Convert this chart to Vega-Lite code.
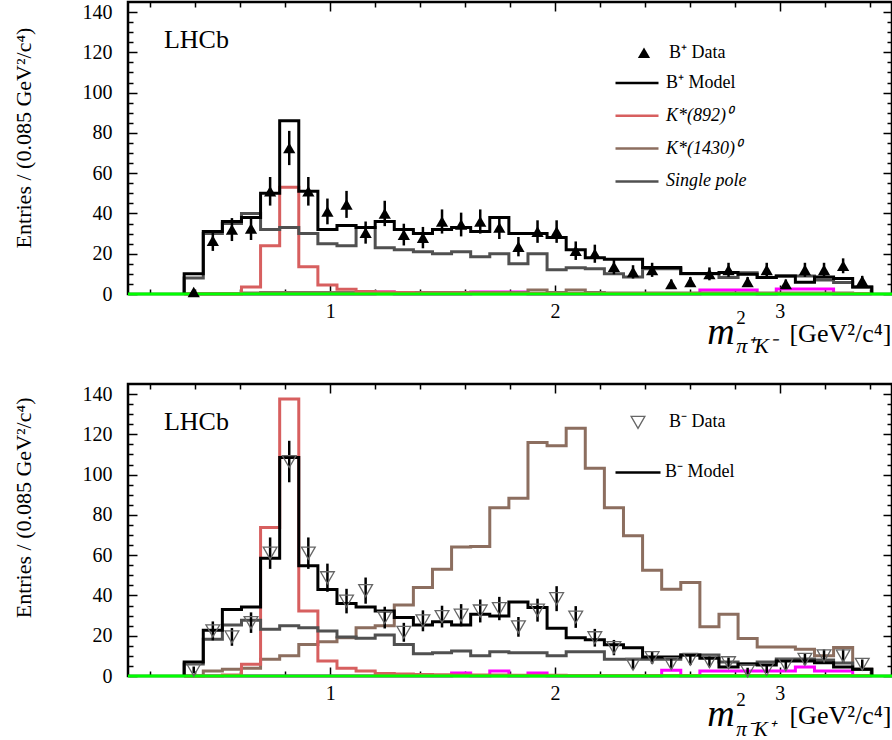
{
"$schema": "https://vega.github.io/schema/vega-lite/v6.json",
"background": "white",
"padding": {"left": 10, "top": 0, "right": 0, "bottom": 0},
"config": {
  "font": "Liberation Serif",
  "view": {"stroke": "black", "strokeWidth": 2.5},
  "axis": {"labelFont": "Liberation Serif", "titleFont": "Liberation Serif", "labelColor": "black", "titleColor": "black", "tickColor": "black", "domain": false, "grid": false, "titleFontWeight": "normal", "labelFontSize": 20, "tickWidth": 1.5, "labelOverlap": false, "labelFlush": false},
  "legend": {"labelFont": "Liberation Serif", "labelColor": "black", "labelFontSize": 18, "padding": 0, "title": null},
  "text": {"font": "Liberation Serif", "color": "black"}
},
"datasets": {
"hp": [
{"i":0,"x":0.35,"model":0,"k892":0,"k1430":0,"pole":0,"mag":0},
{"i":1,"x":0.35,"model":10,"k892":0,"k1430":0.3,"pole":8,"mag":0},
{"i":2,"x":0.435,"model":31,"k892":0,"k1430":0.3,"pole":30,"mag":0},
{"i":3,"x":0.52,"model":36,"k892":0,"k1430":0.3,"pole":35,"mag":0},
{"i":4,"x":0.605,"model":38,"k892":3.5,"k1430":0.5,"pole":40,"mag":0},
{"i":5,"x":0.69,"model":50,"k892":24,"k1430":0.7,"pole":32,"mag":0},
{"i":6,"x":0.775,"model":86,"k892":53,"k1430":0.8,"pole":33,"mag":0},
{"i":7,"x":0.86,"model":51,"k892":13.5,"k1430":0.8,"pole":30,"mag":0},
{"i":8,"x":0.945,"model":32,"k892":4.5,"k1430":0.8,"pole":25,"mag":0},
{"i":9,"x":1.03,"model":34,"k892":2.3,"k1430":0.8,"pole":24,"mag":0},
{"i":10,"x":1.115,"model":33,"k892":1.2,"k1430":0.8,"pole":33,"mag":0},
{"i":11,"x":1.2,"model":36,"k892":1,"k1430":0.8,"pole":23,"mag":1},
{"i":12,"x":1.285,"model":32,"k892":0.8,"k1430":0.8,"pole":22,"mag":0},
{"i":13,"x":1.37,"model":30,"k892":0.5,"k1430":0.8,"pole":21,"mag":0},
{"i":14,"x":1.455,"model":32,"k892":0.5,"k1430":0.8,"pole":20,"mag":0},
{"i":15,"x":1.54,"model":33,"k892":0.5,"k1430":0.8,"pole":21,"mag":0},
{"i":16,"x":1.625,"model":31,"k892":0.4,"k1430":0.8,"pole":18.5,"mag":1},
{"i":17,"x":1.71,"model":38,"k892":0.4,"k1430":0.8,"pole":20,"mag":1},
{"i":18,"x":1.795,"model":30,"k892":0.3,"k1430":0.8,"pole":15,"mag":1},
{"i":19,"x":1.88,"model":30,"k892":0.3,"k1430":2,"pole":20,"mag":0},
{"i":20,"x":1.965,"model":28,"k892":0.3,"k1430":0.8,"pole":12,"mag":0},
{"i":21,"x":2.05,"model":22,"k892":0.3,"k1430":2,"pole":13,"mag":0},
{"i":22,"x":2.135,"model":18,"k892":0.3,"k1430":0.8,"pole":12.5,"mag":0},
{"i":23,"x":2.22,"model":17.3,"k892":0.3,"k1430":0.5,"pole":10,"mag":0},
{"i":24,"x":2.305,"model":17.3,"k892":0.3,"k1430":0.5,"pole":8.5,"mag":0},
{"i":25,"x":2.39,"model":13.2,"k892":0.3,"k1430":0.5,"pole":12.5,"mag":0},
{"i":26,"x":2.475,"model":13.2,"k892":0.3,"k1430":0.5,"pole":12.5,"mag":0},
{"i":27,"x":2.56,"model":10.2,"k892":0.3,"k1430":0.5,"pole":10,"mag":0},
{"i":28,"x":2.645,"model":10.2,"k892":0.3,"k1430":0.5,"pole":10,"mag":2},
{"i":29,"x":2.73,"model":10.7,"k892":0.3,"k1430":0.5,"pole":8.2,"mag":2},
{"i":30,"x":2.815,"model":9.8,"k892":0.3,"k1430":0.5,"pole":10.5,"mag":2},
{"i":31,"x":2.9,"model":8.2,"k892":0.3,"k1430":0.5,"pole":8.2,"mag":0},
{"i":32,"x":2.985,"model":9,"k892":0.3,"k1430":0.5,"pole":9,"mag":2.5},
{"i":33,"x":3.07,"model":5.8,"k892":0.3,"k1430":0.5,"pole":9,"mag":2.5},
{"i":34,"x":3.155,"model":8.5,"k892":0.3,"k1430":0.5,"pole":7,"mag":2.5},
{"i":35,"x":3.24,"model":7.7,"k892":0.3,"k1430":0.5,"pole":5.7,"mag":0},
{"i":36,"x":3.325,"model":3.5,"k892":0.3,"k1430":0.3,"pole":3.5,"mag":0},
{"i":37,"x":3.41,"model":3.5,"k892":0.3,"k1430":0.3,"pole":3.5,"mag":0},
{"i":38,"x":3.41,"model":0,"k892":0,"k1430":0,"pole":0,"mag":0}
],
"hm": [
{"i":0,"x":0.35,"model":0,"k892":0,"k1430":0,"pole":0,"mag":0},
{"i":1,"x":0.35,"model":7,"k892":0,"k1430":0,"pole":6,"mag":0},
{"i":2,"x":0.435,"model":22.7,"k892":0,"k1430":2.5,"pole":18.2,"mag":0},
{"i":3,"x":0.52,"model":33,"k892":0.5,"k1430":3.3,"pole":25.3,"mag":0},
{"i":4,"x":0.605,"model":34.3,"k892":5.8,"k1430":3.8,"pole":27.7,"mag":0},
{"i":5,"x":0.69,"model":58.5,"k892":73.7,"k1430":8.3,"pole":23.2,"mag":0},
{"i":6,"x":0.775,"model":108.5,"k892":137.5,"k1430":10,"pole":24.9,"mag":0},
{"i":7,"x":0.86,"model":54.7,"k892":32.3,"k1430":15.7,"pole":24,"mag":0},
{"i":8,"x":0.945,"model":43,"k892":7.5,"k1430":17,"pole":22.4,"mag":0},
{"i":9,"x":1.03,"model":36,"k892":3.8,"k1430":19,"pole":19.4,"mag":0},
{"i":10,"x":1.115,"model":34.3,"k892":2.5,"k1430":24,"pole":18.7,"mag":0},
{"i":11,"x":1.2,"model":32.3,"k892":1.3,"k1430":25,"pole":20.4,"mag":0},
{"i":12,"x":1.285,"model":29,"k892":1,"k1430":35.3,"pole":15.7,"mag":0},
{"i":13,"x":1.37,"model":25.3,"k892":0.8,"k1430":44,"pole":11,"mag":0},
{"i":14,"x":1.455,"model":27,"k892":0.6,"k1430":53,"pole":11.5,"mag":0},
{"i":15,"x":1.54,"model":25.3,"k892":0.5,"k1430":64,"pole":12.4,"mag":1.5},
{"i":16,"x":1.625,"model":30.7,"k892":0.5,"k1430":64.3,"pole":10,"mag":0},
{"i":17,"x":1.71,"model":29.8,"k892":0.5,"k1430":83.5,"pole":12,"mag":2.5},
{"i":18,"x":1.795,"model":36.8,"k892":0.4,"k1430":88.3,"pole":11.6,"mag":0},
{"i":19,"x":1.88,"model":34,"k892":0.4,"k1430":116,"pole":11.6,"mag":1.5},
{"i":20,"x":1.965,"model":23.7,"k892":0.4,"k1430":114.3,"pole":10,"mag":0},
{"i":21,"x":2.05,"model":19,"k892":0.3,"k1430":123,"pole":12,"mag":0},
{"i":22,"x":2.135,"model":18,"k892":0.3,"k1430":103.2,"pole":12,"mag":0},
{"i":23,"x":2.22,"model":15.5,"k892":0.3,"k1430":83.6,"pole":8.3,"mag":0},
{"i":24,"x":2.305,"model":14,"k892":0.3,"k1430":69.6,"pole":8.3,"mag":0},
{"i":25,"x":2.39,"model":9.4,"k892":0.3,"k1430":52.5,"pole":8.3,"mag":0},
{"i":26,"x":2.475,"model":9.4,"k892":0.3,"k1430":43.1,"pole":8.3,"mag":2.8},
{"i":27,"x":2.56,"model":10.4,"k892":0.3,"k1430":46.4,"pole":10.4,"mag":0},
{"i":28,"x":2.645,"model":8.8,"k892":0.3,"k1430":24.4,"pole":10.4,"mag":2.5},
{"i":29,"x":2.73,"model":4.5,"k892":0.3,"k1430":30.7,"pole":7,"mag":2.5},
{"i":30,"x":2.815,"model":6,"k892":0.3,"k1430":18.6,"pole":6,"mag":2.5},
{"i":31,"x":2.9,"model":5.5,"k892":0.3,"k1430":14.4,"pole":7,"mag":2.5},
{"i":32,"x":2.985,"model":7.5,"k892":0.3,"k1430":14.4,"pole":8.5,"mag":2.5},
{"i":33,"x":3.07,"model":7.5,"k892":0.3,"k1430":13.3,"pole":8.5,"mag":4.5},
{"i":34,"x":3.155,"model":6.6,"k892":0.3,"k1430":10,"pole":8,"mag":2.5},
{"i":35,"x":3.24,"model":4.5,"k892":0.3,"k1430":14.1,"pole":6.5,"mag":2.5},
{"i":36,"x":3.325,"model":3.4,"k892":0.3,"k1430":3.3,"pole":3.4,"mag":0},
{"i":37,"x":3.41,"model":3.4,"k892":0.3,"k1430":3.3,"pole":3.4,"mag":0},
{"i":38,"x":3.41,"model":0,"k892":0,"k1430":0,"pole":0,"mag":0}
],
"dp": [
{"x":0.3925,"y":1,"lo":0,"hi":2},
{"x":0.4775,"y":26.5,"lo":21.4,"hi":31.6},
{"x":0.5625,"y":32,"lo":26.3,"hi":37.7},
{"x":0.6475,"y":32.5,"lo":26.8,"hi":38.2},
{"x":0.7325,"y":51,"lo":43.9,"hi":58.1},
{"x":0.8175,"y":72.5,"lo":64,"hi":81},
{"x":0.9025,"y":51,"lo":43.9,"hi":58.1},
{"x":0.9875,"y":41,"lo":34.6,"hi":47.4},
{"x":1.0725,"y":44.5,"lo":37.8,"hi":51.2},
{"x":1.1575,"y":30.5,"lo":25,"hi":36},
{"x":1.2425,"y":40,"lo":33.7,"hi":46.3},
{"x":1.3275,"y":29.5,"lo":24.1,"hi":34.9},
{"x":1.4125,"y":28,"lo":22.7,"hi":33.3},
{"x":1.4975,"y":36,"lo":30,"hi":42},
{"x":1.5825,"y":34.5,"lo":28.6,"hi":40.4},
{"x":1.6675,"y":36,"lo":30,"hi":42},
{"x":1.7525,"y":33,"lo":27.3,"hi":38.7},
{"x":1.8375,"y":23.5,"lo":18.7,"hi":28.3},
{"x":1.9225,"y":31,"lo":25.4,"hi":36.6},
{"x":2.0075,"y":31,"lo":25.4,"hi":36.6},
{"x":2.0925,"y":21.5,"lo":16.9,"hi":26.1},
{"x":2.1775,"y":20,"lo":15.5,"hi":24.5},
{"x":2.2625,"y":13.5,"lo":9.8,"hi":17.2},
{"x":2.3475,"y":11,"lo":7.7,"hi":14.3},
{"x":2.4325,"y":12,"lo":8.5,"hi":15.5},
{"x":2.5175,"y":5,"lo":2.8,"hi":7.2},
{"x":2.6025,"y":6,"lo":3.6,"hi":8.4},
{"x":2.6875,"y":10,"lo":6.8,"hi":13.2},
{"x":2.7725,"y":12,"lo":8.5,"hi":15.5},
{"x":2.8575,"y":6,"lo":3.6,"hi":8.4},
{"x":2.9425,"y":12,"lo":8.5,"hi":15.5},
{"x":3.0275,"y":5,"lo":2.8,"hi":7.2},
{"x":3.1125,"y":12,"lo":8.5,"hi":15.5},
{"x":3.1975,"y":12,"lo":8.5,"hi":15.5},
{"x":3.2825,"y":14,"lo":10.3,"hi":17.7},
{"x":3.3675,"y":6.5,"lo":4,"hi":9}
],
"dm": [
{"x":0.3925,"y":3,"lo":1.3,"hi":4.7},
{"x":0.4775,"y":22.4,"lo":17.7,"hi":27.1},
{"x":0.5625,"y":19.4,"lo":15,"hi":23.8},
{"x":0.6475,"y":26.5,"lo":21.4,"hi":31.6},
{"x":0.7325,"y":61,"lo":53.2,"hi":68.8},
{"x":0.8175,"y":106.5,"lo":96.2,"hi":116.8},
{"x":0.9025,"y":61,"lo":53.2,"hi":68.8},
{"x":0.9875,"y":48.8,"lo":41.8,"hi":55.8},
{"x":1.0725,"y":37.2,"lo":31.1,"hi":43.3},
{"x":1.1575,"y":42.4,"lo":35.9,"hi":48.9},
{"x":1.2425,"y":29,"lo":23.6,"hi":34.4},
{"x":1.3275,"y":21.7,"lo":17,"hi":26.4},
{"x":1.4125,"y":27.4,"lo":22.2,"hi":32.6},
{"x":1.4975,"y":29.5,"lo":24.1,"hi":34.9},
{"x":1.5825,"y":30.2,"lo":24.7,"hi":35.7},
{"x":1.6675,"y":32.3,"lo":26.6,"hi":38},
{"x":1.7525,"y":33.5,"lo":27.7,"hi":39.3},
{"x":1.8375,"y":24.4,"lo":19.5,"hi":29.3},
{"x":1.9225,"y":32.7,"lo":27,"hi":38.4},
{"x":2.0075,"y":38.4,"lo":32.2,"hi":44.6},
{"x":2.0925,"y":29.3,"lo":23.9,"hi":34.7},
{"x":2.1775,"y":19,"lo":14.6,"hi":23.4},
{"x":2.2625,"y":14.1,"lo":10.3,"hi":17.9},
{"x":2.3475,"y":5.8,"lo":3.4,"hi":8.2},
{"x":2.4325,"y":9.1,"lo":6.1,"hi":12.1},
{"x":2.5175,"y":6.1,"lo":3.6,"hi":8.6},
{"x":2.6025,"y":8.3,"lo":5.4,"hi":11.2},
{"x":2.6875,"y":7.1,"lo":4.4,"hi":9.8},
{"x":2.7725,"y":6.6,"lo":4,"hi":9.2},
{"x":2.8575,"y":2.5,"lo":0.9,"hi":4.1},
{"x":2.9425,"y":3.3,"lo":1.5,"hi":5.1},
{"x":3.0275,"y":5.5,"lo":3.2,"hi":7.8},
{"x":3.1125,"y":8.3,"lo":5.4,"hi":11.2},
{"x":3.1975,"y":10,"lo":6.8,"hi":13.2},
{"x":3.2825,"y":10,"lo":6.8,"hi":13.2},
{"x":3.3675,"y":5.8,"lo":3.4,"hi":8.2}
]
},
"vconcat": [
{
 "width": 764, "height": 292,
 "resolve": {"axis": {"x": "independent", "y": "independent"}},
 "layer": [
  {"data": {"name": "hp"}, "mark": {"type": "line", "color": "#ff00ff", "strokeWidth": 3, "interpolate": "step-after"},
   "encoding": {"x": {"field": "x", "type": "quantitative", "scale": {"domain": [0.1, 3.5], "nice": false, "zero": false}, "axis": null},
                "y": {"field": "mag", "type": "quantitative", "scale": {"domain": [0, 145], "nice": false}, "axis": null},
                "order": {"field": "i", "type": "quantitative"}}},
  {"data": {"name": "hp"}, "transform": [{"fold": ["k1430", "k892", "pole", "model"], "as": ["c", "v"]}],
   "mark": {"type": "line", "strokeWidth": 3, "interpolate": "step-after"},
   "encoding": {
    "x": {"field": "x", "type": "quantitative", "scale": {"domain": [0.1, 3.5], "nice": false, "zero": false},
          "axis": {"orient": "bottom", "values": [0.2,0.4,0.6,0.8,1,1.2,1.4,1.6,1.8,2,2.2,2.4,2.6,2.8,3,3.2,3.4],
                   "labelExpr": "abs(datum.value - round(datum.value)) < 0.001 ? '' + round(datum.value) : ''",
                   "tickSize": {"condition": {"test": "abs(datum.value - round(datum.value)) < 0.001", "value": -9}, "value": -5},
                   "labelPadding": 16, "title": "[GeV²/c⁴]", "titleFontSize": 26, "titleAnchor": "end", "titleAlign": "right", "titleBaseline": "alphabetic", "titleX": 763, "titleY": 47}},
    "y": {"field": "v", "type": "quantitative", "scale": {"domain": [0, 145], "nice": false},
          "axis": {"orient": "left", "values": [0,5,10,15,20,25,30,35,40,45,50,55,60,65,70,75,80,85,90,95,100,105,110,115,120,125,130,135,140],
                   "labelExpr": "datum.value % 20 === 0 ? '' + datum.value : ''",
                   "tickSize": {"condition": {"test": "datum.value % 20 === 0", "value": -9}, "value": -5},
                   "labelPadding": 25, "title": "Entries / (0.085 GeV²/c⁴)", "titleFontSize": 22, "titleAngle": -90, "titleAlign": "center", "titleBaseline": "bottom", "titleX": -93, "titleY": 135.5}},
    "color": {"field": "c", "type": "nominal",
              "scale": {"domain": ["model", "k892", "k1430", "pole"], "range": ["#000000", "#d75f5f", "#8c6e5f", "#505050"]},
              "legend": {"orient": "none", "legendX": 486, "legendY": 71, "symbolSize": 1849, "symbolStrokeWidth": 2.5, "labelOffset": 6, "clipHeight": 20, "rowPadding": 12.8,
                         "labelExpr": "datum.value === 'model' ? 'B⁺ Model' : datum.value === 'k892' ? 'K*(892)⁰' : datum.value === 'k1430' ? 'K*(1430)⁰' : 'Single pole'",
                         "encode": {"labels": {"update": {"fontStyle": {"signal": "datum.value === 'model' ? 'normal' : 'italic'"}}}}}},
    "order": {"field": "i", "type": "quantitative"}}},
  {"data": {"values": [{}]}, "mark": {"type": "rule", "color": "#00ff00", "strokeWidth": 3},
   "encoding": {"y": {"datum": 0, "type": "quantitative", "scale": {"domain": [0, 145], "nice": false}, "axis": null}}},
  {"data": {"name": "dp"}, "mark": {"type": "rule", "color": "black", "strokeWidth": 2.5},
   "encoding": {"x": {"field": "x", "type": "quantitative", "scale": {"domain": [0.1, 3.5], "nice": false, "zero": false},
                      "axis": {"orient": "top", "values": [0.2,0.4,0.6,0.8,1,1.2,1.4,1.6,1.8,2,2.2,2.4,2.6,2.8,3,3.2,3.4], "labels": false, "title": null,
                               "tickSize": {"condition": {"test": "abs(datum.value - round(datum.value)) < 0.001", "value": -9}, "value": -5}}},
                "y": {"field": "lo", "type": "quantitative", "scale": {"domain": [0, 145], "nice": false},
                      "axis": {"orient": "right", "values": [0,5,10,15,20,25,30,35,40,45,50,55,60,65,70,75,80,85,90,95,100,105,110,115,120,125,130,135,140], "labels": false, "title": null,
                               "tickSize": {"condition": {"test": "datum.value % 20 === 0", "value": -9}, "value": -5}}},
                "y2": {"field": "hi"}}},
  {"data": {"name": "dp"}, "mark": {"type": "point", "filled": true, "color": "black", "size": 150, "opacity": 1},
   "encoding": {"x": {"field": "x", "type": "quantitative", "scale": {"domain": [0.1, 3.5], "nice": false, "zero": false}, "axis": null},
                "y": {"field": "y", "type": "quantitative", "scale": {"domain": [0, 145], "nice": false}, "axis": null},
                "shape": {"datum": "B⁺ Data", "scale": {"range": ["triangle-up"]},
                          "legend": {"orient": "none", "legendX": 507, "legendY": 40.7, "symbolSize": 150, "symbolFillColor": "black", "symbolStrokeColor": "black", "labelOffset": 16, "clipHeight": 20}}}},
  {"data": {"values": [{}]}, "mark": {"type": "text", "text": "LHCb", "fontSize": 26, "align": "left", "baseline": "alphabetic"},
   "encoding": {"x": {"datum": 0.26, "type": "quantitative", "scale": {"domain": [0.1, 3.5], "nice": false, "zero": false}, "axis": null},
                "y": {"datum": 122.3, "type": "quantitative", "scale": {"domain": [0, 145], "nice": false}, "axis": null}}},
  {"data": {"values": [{}]}, "mark": {"type": "text", "text": "m", "fontSize": 38, "fontStyle": "italic", "align": "left", "baseline": "alphabetic"},
   "encoding": {"x": {"datum": 2.678, "type": "quantitative", "scale": {"domain": [0.1, 3.5], "nice": false, "zero": false}, "axis": null},
                "y": {"datum": -24.8, "type": "quantitative", "scale": {"domain": [0, 145], "nice": false}, "axis": null}}},
  {"data": {"values": [{}]}, "mark": {"type": "text", "text": "2", "fontSize": 19, "align": "left", "baseline": "alphabetic"},
   "encoding": {"x": {"datum": 2.807, "type": "quantitative", "scale": {"domain": [0.1, 3.5], "nice": false, "zero": false}, "axis": null},
                "y": {"datum": -14.9, "type": "quantitative", "scale": {"domain": [0, 145], "nice": false}, "axis": null}}},
  {"data": {"values": [{}]}, "mark": {"type": "text", "text": "π⁺K⁻", "fontSize": 22, "fontStyle": "italic", "align": "left", "baseline": "alphabetic"},
   "encoding": {"x": {"datum": 2.807, "type": "quantitative", "scale": {"domain": [0.1, 3.5], "nice": false, "zero": false}, "axis": null},
                "y": {"datum": -29.3, "type": "quantitative", "scale": {"domain": [0, 145], "nice": false}, "axis": null}}}
 ]
},
{
 "width": 764, "height": 292,
 "resolve": {"axis": {"x": "independent", "y": "independent"}},
 "layer": [
  {"data": {"name": "hm"}, "mark": {"type": "line", "color": "#ff00ff", "strokeWidth": 3, "interpolate": "step-after"},
   "encoding": {"x": {"field": "x", "type": "quantitative", "scale": {"domain": [0.1, 3.5], "nice": false, "zero": false}, "axis": null},
                "y": {"field": "mag", "type": "quantitative", "scale": {"domain": [0, 145], "nice": false}, "axis": null},
                "order": {"field": "i", "type": "quantitative"}}},
  {"data": {"name": "hm"}, "transform": [{"fold": ["k1430", "k892", "pole", "model"], "as": ["c", "v"]}],
   "mark": {"type": "line", "strokeWidth": 3, "interpolate": "step-after"},
   "encoding": {
    "x": {"field": "x", "type": "quantitative", "scale": {"domain": [0.1, 3.5], "nice": false, "zero": false},
          "axis": {"orient": "bottom", "values": [0.2,0.4,0.6,0.8,1,1.2,1.4,1.6,1.8,2,2.2,2.4,2.6,2.8,3,3.2,3.4],
                   "labelExpr": "abs(datum.value - round(datum.value)) < 0.001 ? '' + round(datum.value) : ''",
                   "tickSize": {"condition": {"test": "abs(datum.value - round(datum.value)) < 0.001", "value": -9}, "value": -5},
                   "labelPadding": 16, "title": "[GeV²/c⁴]", "titleFontSize": 26, "titleAnchor": "end", "titleAlign": "right", "titleBaseline": "alphabetic", "titleX": 763, "titleY": 47.7}},
    "y": {"field": "v", "type": "quantitative", "scale": {"domain": [0, 145], "nice": false},
          "axis": {"orient": "left", "values": [0,5,10,15,20,25,30,35,40,45,50,55,60,65,70,75,80,85,90,95,100,105,110,115,120,125,130,135,140],
                   "labelExpr": "datum.value % 20 === 0 ? '' + datum.value : ''",
                   "tickSize": {"condition": {"test": "datum.value % 20 === 0", "value": -9}, "value": -5},
                   "labelPadding": 25, "title": "Entries / (0.085 GeV²/c⁴)", "titleFontSize": 22, "titleAngle": -90, "titleAlign": "center", "titleBaseline": "bottom", "titleX": -93, "titleY": 123.4}},
    "color": {"field": "c", "type": "nominal",
              "scale": {"domain": ["model", "k892", "k1430", "pole"], "range": ["#000000", "#d75f5f", "#8c6e5f", "#505050"]},
              "legend": {"orient": "none", "legendX": 486, "legendY": 78.4, "values": ["model"], "symbolSize": 2025, "symbolStrokeWidth": 2.5, "labelOffset": 3, "clipHeight": 20,
                         "labelExpr": "datum.value === 'model' ? 'B⁻ Model' : datum.label"}},
    "order": {"field": "i", "type": "quantitative"}}},
  {"data": {"values": [{}]}, "mark": {"type": "rule", "color": "#00ff00", "strokeWidth": 3},
   "encoding": {"y": {"datum": 0, "type": "quantitative", "scale": {"domain": [0, 145], "nice": false}, "axis": null}}},
  {"data": {"name": "dm"}, "mark": {"type": "rule", "color": "black", "strokeWidth": 2.5},
   "encoding": {"x": {"field": "x", "type": "quantitative", "scale": {"domain": [0.1, 3.5], "nice": false, "zero": false},
                      "axis": {"orient": "top", "values": [0.2,0.4,0.6,0.8,1,1.2,1.4,1.6,1.8,2,2.2,2.4,2.6,2.8,3,3.2,3.4], "labels": false, "title": null,
                               "tickSize": {"condition": {"test": "abs(datum.value - round(datum.value)) < 0.001", "value": -9}, "value": -5}}},
                "y": {"field": "lo", "type": "quantitative", "scale": {"domain": [0, 145], "nice": false},
                      "axis": {"orient": "right", "values": [0,5,10,15,20,25,30,35,40,45,50,55,60,65,70,75,80,85,90,95,100,105,110,115,120,125,130,135,140], "labels": false, "title": null,
                               "tickSize": {"condition": {"test": "datum.value % 20 === 0", "value": -9}, "value": -5}}},
                "y2": {"field": "hi"}}},
  {"data": {"name": "dm"}, "mark": {"type": "point", "filled": false, "color": "#666666", "strokeWidth": 1.3, "size": 190, "opacity": 1},
   "encoding": {"x": {"field": "x", "type": "quantitative", "scale": {"domain": [0.1, 3.5], "nice": false, "zero": false}, "axis": null},
                "y": {"field": "y", "type": "quantitative", "scale": {"domain": [0, 145], "nice": false}, "axis": null},
                "shape": {"datum": "B⁻ Data", "scale": {"range": ["triangle-down"]},
                          "legend": {"orient": "none", "legendX": 501, "legendY": 28.4, "symbolSize": 190, "symbolFillColor": "transparent", "symbolStrokeColor": "#666666", "symbolStrokeWidth": 1.3, "labelOffset": 22, "clipHeight": 20}}}},
  {"data": {"values": [{}]}, "mark": {"type": "text", "text": "LHCb", "fontSize": 26, "align": "left", "baseline": "alphabetic"},
   "encoding": {"x": {"datum": 0.26, "type": "quantitative", "scale": {"domain": [0.1, 3.5], "nice": false, "zero": false}, "axis": null},
                "y": {"datum": 122.3, "type": "quantitative", "scale": {"domain": [0, 145], "nice": false}, "axis": null}}},
  {"data": {"values": [{}]}, "mark": {"type": "text", "text": "m", "fontSize": 38, "fontStyle": "italic", "align": "left", "baseline": "alphabetic"},
   "encoding": {"x": {"datum": 2.678, "type": "quantitative", "scale": {"domain": [0.1, 3.5], "nice": false, "zero": false}, "axis": null},
                "y": {"datum": -24.7, "type": "quantitative", "scale": {"domain": [0, 145], "nice": false}, "axis": null}}},
  {"data": {"values": [{}]}, "mark": {"type": "text", "text": "2", "fontSize": 19, "align": "left", "baseline": "alphabetic"},
   "encoding": {"x": {"datum": 2.807, "type": "quantitative", "scale": {"domain": [0.1, 3.5], "nice": false, "zero": false}, "axis": null},
                "y": {"datum": -14.7, "type": "quantitative", "scale": {"domain": [0, 145], "nice": false}, "axis": null}}},
  {"data": {"values": [{}]}, "mark": {"type": "text", "text": "π⁻K⁺", "fontSize": 21, "fontStyle": "italic", "align": "left", "baseline": "alphabetic"},
   "encoding": {"x": {"datum": 2.807, "type": "quantitative", "scale": {"domain": [0.1, 3.5], "nice": false, "zero": false}, "axis": null},
                "y": {"datum": -29.6, "type": "quantitative", "scale": {"domain": [0, 145], "nice": false}, "axis": null}}}
 ]
}
],
"spacing": 90,
"bounds": "flush",
"resolve": {"scale": {"color": "independent", "shape": "independent"}}
}
